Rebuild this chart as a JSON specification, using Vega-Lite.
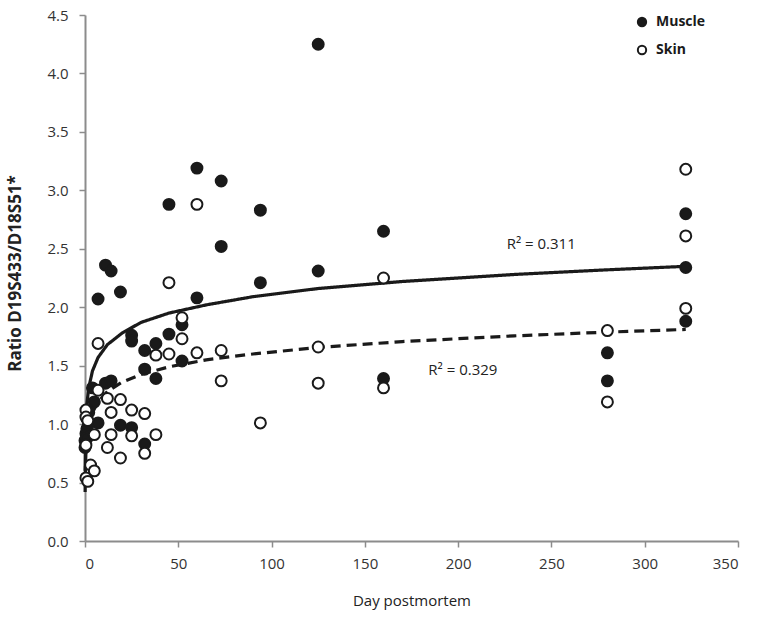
{
  "$schema": "https://vega.github.io/schema/vega-lite/v6.json",
  "width": 653,
  "height": 526,
  "autosize": {"type": "none"},
  "padding": {"left": 85, "top": 15, "right": 20, "bottom": 80},
  "background": "white",
  "config": {
    "view": {"stroke": null},
    "font": "Open Sans",
    "axis": {"grid": false, "domainColor": "#8c8c8c", "tickColor": "#8c8c8c", "domainWidth": 2, "tickWidth": 1.5, "tickSize": 6, "labelColor": "#333333", "labelFontSize": 15, "titleColor": "#222222"}
  },
  "datasets": {
    "pts": [
      {"day": 0, "ratio": 0.80, "tissue": "Muscle"},
      {"day": 0, "ratio": 0.86, "tissue": "Muscle"},
      {"day": 0.5, "ratio": 0.92, "tissue": "Muscle"},
      {"day": 1, "ratio": 0.96, "tissue": "Muscle"},
      {"day": 1, "ratio": 1.05, "tissue": "Muscle"},
      {"day": 1, "ratio": 0.88, "tissue": "Muscle"},
      {"day": 2, "ratio": 1.10, "tissue": "Muscle"},
      {"day": 2, "ratio": 1.00, "tissue": "Muscle"},
      {"day": 4, "ratio": 1.31, "tissue": "Muscle"},
      {"day": 5, "ratio": 1.19, "tissue": "Muscle"},
      {"day": 7, "ratio": 2.07, "tissue": "Muscle"},
      {"day": 7, "ratio": 1.01, "tissue": "Muscle"},
      {"day": 11, "ratio": 2.36, "tissue": "Muscle"},
      {"day": 11, "ratio": 1.35, "tissue": "Muscle"},
      {"day": 14, "ratio": 2.31, "tissue": "Muscle"},
      {"day": 14, "ratio": 1.37, "tissue": "Muscle"},
      {"day": 19, "ratio": 2.13, "tissue": "Muscle"},
      {"day": 19, "ratio": 0.99, "tissue": "Muscle"},
      {"day": 25, "ratio": 1.76, "tissue": "Muscle"},
      {"day": 25, "ratio": 1.71, "tissue": "Muscle"},
      {"day": 25, "ratio": 0.97, "tissue": "Muscle"},
      {"day": 32, "ratio": 1.63, "tissue": "Muscle"},
      {"day": 32, "ratio": 1.47, "tissue": "Muscle"},
      {"day": 32, "ratio": 0.83, "tissue": "Muscle"},
      {"day": 38, "ratio": 1.69, "tissue": "Muscle"},
      {"day": 38, "ratio": 1.39, "tissue": "Muscle"},
      {"day": 45, "ratio": 2.88, "tissue": "Muscle"},
      {"day": 45, "ratio": 1.77, "tissue": "Muscle"},
      {"day": 52, "ratio": 1.85, "tissue": "Muscle"},
      {"day": 52, "ratio": 1.54, "tissue": "Muscle"},
      {"day": 60, "ratio": 3.19, "tissue": "Muscle"},
      {"day": 60, "ratio": 2.08, "tissue": "Muscle"},
      {"day": 73, "ratio": 3.08, "tissue": "Muscle"},
      {"day": 73, "ratio": 2.52, "tissue": "Muscle"},
      {"day": 94, "ratio": 2.83, "tissue": "Muscle"},
      {"day": 94, "ratio": 2.21, "tissue": "Muscle"},
      {"day": 125, "ratio": 4.25, "tissue": "Muscle"},
      {"day": 125, "ratio": 2.31, "tissue": "Muscle"},
      {"day": 160, "ratio": 2.65, "tissue": "Muscle"},
      {"day": 160, "ratio": 1.39, "tissue": "Muscle"},
      {"day": 280, "ratio": 1.61, "tissue": "Muscle"},
      {"day": 280, "ratio": 1.37, "tissue": "Muscle"},
      {"day": 322, "ratio": 2.80, "tissue": "Muscle"},
      {"day": 322, "ratio": 2.34, "tissue": "Muscle"},
      {"day": 322, "ratio": 1.88, "tissue": "Muscle"},
      {"day": 0.5, "ratio": 1.12, "tissue": "Skin"},
      {"day": 0.5, "ratio": 1.06, "tissue": "Skin"},
      {"day": 0.5, "ratio": 0.82, "tissue": "Skin"},
      {"day": 0.5, "ratio": 0.54, "tissue": "Skin"},
      {"day": 1.5, "ratio": 0.51, "tissue": "Skin"},
      {"day": 1.5, "ratio": 1.03, "tissue": "Skin"},
      {"day": 3, "ratio": 0.65, "tissue": "Skin"},
      {"day": 5, "ratio": 0.60, "tissue": "Skin"},
      {"day": 5, "ratio": 0.91, "tissue": "Skin"},
      {"day": 7, "ratio": 1.69, "tissue": "Skin"},
      {"day": 7, "ratio": 1.29, "tissue": "Skin"},
      {"day": 12, "ratio": 1.22, "tissue": "Skin"},
      {"day": 12, "ratio": 0.80, "tissue": "Skin"},
      {"day": 14, "ratio": 1.10, "tissue": "Skin"},
      {"day": 14, "ratio": 0.91, "tissue": "Skin"},
      {"day": 19, "ratio": 1.21, "tissue": "Skin"},
      {"day": 19, "ratio": 0.71, "tissue": "Skin"},
      {"day": 25, "ratio": 1.12, "tissue": "Skin"},
      {"day": 25, "ratio": 0.90, "tissue": "Skin"},
      {"day": 32, "ratio": 1.09, "tissue": "Skin"},
      {"day": 32, "ratio": 0.75, "tissue": "Skin"},
      {"day": 38, "ratio": 1.59, "tissue": "Skin"},
      {"day": 38, "ratio": 0.91, "tissue": "Skin"},
      {"day": 45, "ratio": 2.21, "tissue": "Skin"},
      {"day": 45, "ratio": 1.60, "tissue": "Skin"},
      {"day": 52, "ratio": 1.91, "tissue": "Skin"},
      {"day": 52, "ratio": 1.73, "tissue": "Skin"},
      {"day": 60, "ratio": 2.88, "tissue": "Skin"},
      {"day": 60, "ratio": 1.61, "tissue": "Skin"},
      {"day": 73, "ratio": 1.63, "tissue": "Skin"},
      {"day": 73, "ratio": 1.37, "tissue": "Skin"},
      {"day": 94, "ratio": 1.01, "tissue": "Skin"},
      {"day": 125, "ratio": 1.66, "tissue": "Skin"},
      {"day": 125, "ratio": 1.35, "tissue": "Skin"},
      {"day": 160, "ratio": 2.25, "tissue": "Skin"},
      {"day": 160, "ratio": 1.31, "tissue": "Skin"},
      {"day": 280, "ratio": 1.80, "tissue": "Skin"},
      {"day": 280, "ratio": 1.19, "tissue": "Skin"},
      {"day": 322, "ratio": 3.18, "tissue": "Skin"},
      {"day": 322, "ratio": 2.61, "tissue": "Skin"},
      {"day": 322, "ratio": 1.99, "tissue": "Skin"}
    ],
    "trend": [
      {"day": 0.06, "ratio": 0.60, "fit": "Muscle fit"},
      {"day": 0.2, "ratio": 0.84, "fit": "Muscle fit"},
      {"day": 0.5, "ratio": 1.03, "fit": "Muscle fit"},
      {"day": 1, "ratio": 1.17, "fit": "Muscle fit"},
      {"day": 2, "ratio": 1.31, "fit": "Muscle fit"},
      {"day": 4, "ratio": 1.455, "fit": "Muscle fit"},
      {"day": 7, "ratio": 1.57, "fit": "Muscle fit"},
      {"day": 12, "ratio": 1.68, "fit": "Muscle fit"},
      {"day": 20, "ratio": 1.78, "fit": "Muscle fit"},
      {"day": 30, "ratio": 1.87, "fit": "Muscle fit"},
      {"day": 45, "ratio": 1.95, "fit": "Muscle fit"},
      {"day": 65, "ratio": 2.02, "fit": "Muscle fit"},
      {"day": 90, "ratio": 2.09, "fit": "Muscle fit"},
      {"day": 125, "ratio": 2.16, "fit": "Muscle fit"},
      {"day": 170, "ratio": 2.22, "fit": "Muscle fit"},
      {"day": 230, "ratio": 2.28, "fit": "Muscle fit"},
      {"day": 280, "ratio": 2.32, "fit": "Muscle fit"},
      {"day": 322, "ratio": 2.35, "fit": "Muscle fit"},
      {"day": 0.06, "ratio": 0.42, "fit": "Skin fit"},
      {"day": 0.2, "ratio": 0.61, "fit": "Skin fit"},
      {"day": 0.5, "ratio": 0.76, "fit": "Skin fit"},
      {"day": 1, "ratio": 0.87, "fit": "Skin fit"},
      {"day": 2, "ratio": 0.99, "fit": "Skin fit"},
      {"day": 4, "ratio": 1.10, "fit": "Skin fit"},
      {"day": 7, "ratio": 1.19, "fit": "Skin fit"},
      {"day": 12, "ratio": 1.28, "fit": "Skin fit"},
      {"day": 20, "ratio": 1.36, "fit": "Skin fit"},
      {"day": 30, "ratio": 1.425, "fit": "Skin fit"},
      {"day": 45, "ratio": 1.49, "fit": "Skin fit"},
      {"day": 65, "ratio": 1.55, "fit": "Skin fit"},
      {"day": 90, "ratio": 1.60, "fit": "Skin fit"},
      {"day": 125, "ratio": 1.656, "fit": "Skin fit"},
      {"day": 170, "ratio": 1.706, "fit": "Skin fit"},
      {"day": 230, "ratio": 1.755, "fit": "Skin fit"},
      {"day": 280, "ratio": 1.787, "fit": "Skin fit"},
      {"day": 322, "ratio": 1.81, "fit": "Skin fit"}
    ],
    "labels": [
      {"day": 226, "ratio": 2.54, "label": "R² = 0.311"},
      {"day": 184, "ratio": 1.46, "label": "R² = 0.329"}
    ]
  },
  "encoding": {
    "x": {"field": "day", "type": "quantitative", "scale": {"domain": [0, 350], "nice": false},
      "axis": {"values": [0, 50, 100, 150, 200, 250, 300, 350], "title": "Day postmortem", "titleFontSize": 15, "titleFontWeight": "normal", "titlePadding": 22, "labelPadding": 9}},
    "y": {"field": "ratio", "type": "quantitative", "scale": {"domain": [0, 4.5], "nice": false},
      "axis": {"values": [0, 0.5, 1, 1.5, 2, 2.5, 3, 3.5, 4, 4.5], "format": ".1f", "title": "Ratio D19S433/D18S51*", "titleFontSize": 17, "titleFontWeight": "bold", "titlePadding": 22, "labelPadding": 11, "titleY": 258}}
  },
  "layer": [
    {
      "data": {"name": "trend"},
      "mark": {"type": "line", "color": "#1a1a1a", "strokeWidth": 3.2},
      "encoding": {
        "strokeDash": {"field": "fit", "type": "nominal", "scale": {"domain": ["Muscle fit", "Skin fit"], "range": [[1, 0], [10, 6]]}, "legend": null}
      }
    },
    {
      "data": {"name": "pts"},
      "mark": {"type": "point", "shape": "circle", "size": 120, "strokeWidth": 2, "stroke": "#1a1a1a", "opacity": 1, "filled": false},
      "encoding": {
        "fill": {"field": "tissue", "type": "nominal", "scale": {"domain": ["Muscle", "Skin"], "range": ["#1a1a1a", "#ffffff"]},
          "legend": {"title": null, "orient": "none", "legendX": 550, "legendY": 0, "symbolType": "circle", "symbolSize": 70, "symbolStrokeColor": "#1a1a1a", "symbolStrokeWidth": 2, "labelFontSize": 14, "labelFontWeight": "bold", "labelColor": "#1a1a1a", "rowPadding": 10, "labelOffset": 7}}
      }
    },
    {
      "data": {"name": "labels"},
      "mark": {"type": "text", "align": "left", "baseline": "middle", "fontSize": 15, "color": "#222222"},
      "encoding": {"text": {"field": "label"}}
    }
  ]
}
